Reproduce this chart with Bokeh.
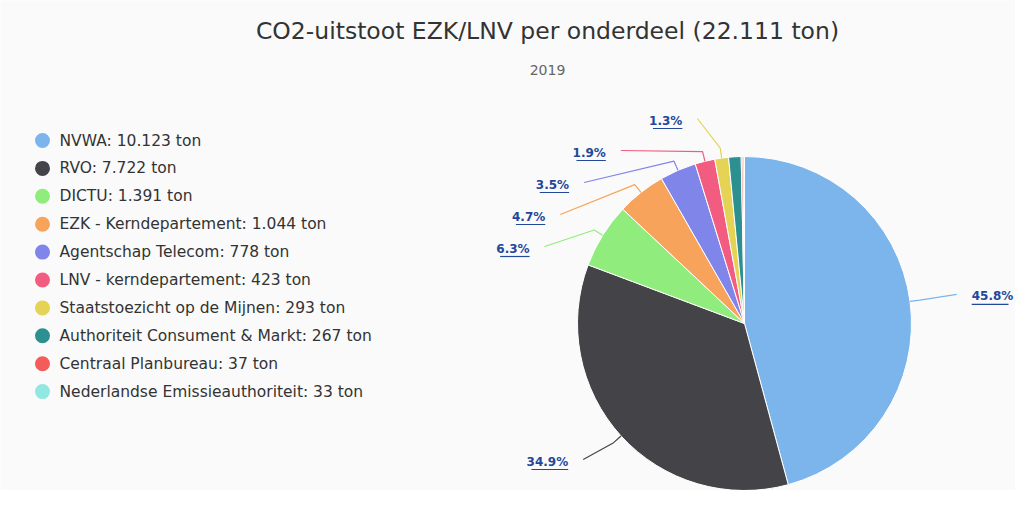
import numpy as np
from bokeh.plotting import figure
from bokeh.models import Range1d
from bokeh.core.properties import value
from bokeh.embed import file_html
from bokeh.resources import INLINE

# ---------------- data ----------------
title = "CO2-uitstoot EZK/LNV per onderdeel (22.111 ton)"
subtitle = "2019"
names = ["NVWA", "RVO", "DICTU", "EZK - Kerndepartement", "Agentschap Telecom",
         "LNV - kerndepartement", "Staatstoezicht op de Mijnen",
         "Authoriteit Consument & Markt", "Centraal Planbureau",
         "Nederlandse Emissieauthoriteit"]
values = [10123, 7722, 1391, 1044, 778, 423, 293, 267, 37, 33]
colors = ["#7cb5ec", "#434348", "#90ed7d", "#f7a35c", "#8085e9",
          "#f15c80", "#e4d354", "#2b908f", "#f45b5b", "#91e8e1"]

FONT = value("DejaVu Sans")
W, H = 1015, 490


def Y(s):
    # image y (px from top) -> data y
    return H - s


def fmt(v):
    return f"{v:,}".replace(",", ".")


p = figure(width=W, height=H, output_backend="svg", toolbar_location=None,
           x_range=Range1d(0, W), y_range=Range1d(0, H),
           min_border=0, background_fill_color="#fafafa",
           border_fill_color="#fafafa", outline_line_color=None)
p.axis.visible = False
p.grid.visible = False

# ---------------- title ----------------
p.text(x=[547], y=[Y(30)], text=[title], text_font=FONT, text_font_size="23.5px",
       text_color="#333333", text_align="center", text_baseline="middle")
p.text(x=[547], y=[Y(69)], text=[subtitle], text_font=FONT, text_font_size="14px",
       text_color="#666666", text_align="center", text_baseline="middle")

# ---------------- pie ----------------
vals = np.array(values, dtype=float)
total = vals.sum()
frac = vals / total
cum = np.concatenate([[0.0], np.cumsum(frac)])
th0 = cum[:-1] * 2 * np.pi
th1 = cum[1:] * 2 * np.pi
mid = (th0 + th1) / 2

CX, CYs, R = 744.0, 323.0, 167.0
p.wedge(x=CX, y=Y(CYs), radius=R, radius_units="screen",
        start_angle=list(np.pi / 2 - th0), end_angle=list(np.pi / 2 - th1),
        direction="clock", fill_color=colors, line_color="white", line_width=1)

# ---------------- data labels ----------------
Rn, Rx, PAD, GAP, TOP, STEP = R + 38, R + 40, 22.0, 15.0, 120.0, 32.0
show = frac >= 0.013
nat_y = CYs - np.cos(mid) * Rn
side = np.where(np.sin(mid) < 0, -1, 1)
lab_y = nat_y.copy()
pinned = np.zeros(len(vals), bool)
for s in (-1, 1):
    idx = [i for i in np.argsort(nat_y) if show[i] and side[i] == s]
    prev = -1e9
    for i in idx:
        y = max(nat_y[i], prev + STEP, TOP)
        if y == TOP and nat_y[i] < TOP:
            pinned[i] = True
        lab_y[i] = y
        prev = y

cw = {".": 3.6, "%": 11.0}
xs_line, ys_line, line_cols = [], [], []
for i in range(len(vals)):
    if not show[i]:
        continue
    yy = nat_y[i] if pinned[i] else lab_y[i]
    dy = yy - CYs
    dx = np.sqrt(max(Rx ** 2 - dy ** 2, 0.0)) + PAD
    ax = CX + side[i] * dx
    txt = f"{100 * frac[i]:.1f}%"
    tw = sum(cw.get(c, 7.4) for c in txt)
    align = "right" if side[i] < 0 else "left"
    p.text(x=[ax], y=[Y(lab_y[i])], text=[txt], text_font=FONT,
           text_font_size="12px", text_font_style="bold", text_color="#23479b",
           text_align=align, text_baseline="middle")
    x0 = ax - tw if side[i] < 0 else ax
    p.segment(x0=[x0], y0=[Y(lab_y[i] + 8)], x1=[x0 + tw], y1=[Y(lab_y[i] + 8)],
              line_color="#23479b", line_width=1.2)
    # connector
    sx = ax - side[i] * GAP
    bx = CX + np.sin(mid[i]) * (R + 10)
    by = CYs - np.cos(mid[i]) * (R + 10)
    ex = CX + np.sin(mid[i]) * R
    ey = CYs - np.cos(mid[i]) * R
    xs_line.append([sx, bx, ex])
    ys_line.append([Y(lab_y[i] - 2), Y(by), Y(ey)])
    line_cols.append(colors[i])
p.multi_line(xs=xs_line, ys=ys_line, line_color=line_cols, line_width=1.2)

# ---------------- legend ----------------
leg_y = [Y(140 + k * 27.9) for k in range(len(names))]
p.scatter(x=[42] * len(names), y=leg_y, size=15, marker="circle",
          fill_color=colors, line_color=None)
p.text(x=[59] * len(names), y=leg_y,
       text=[f"{n}: {fmt(v)} ton" for n, v in zip(names, values)],
       text_font=FONT, text_font_size="15.5px", text_color="#333333",
       text_align="left", text_baseline="middle")

open("out.html", "w").write(file_html(p, INLINE))
